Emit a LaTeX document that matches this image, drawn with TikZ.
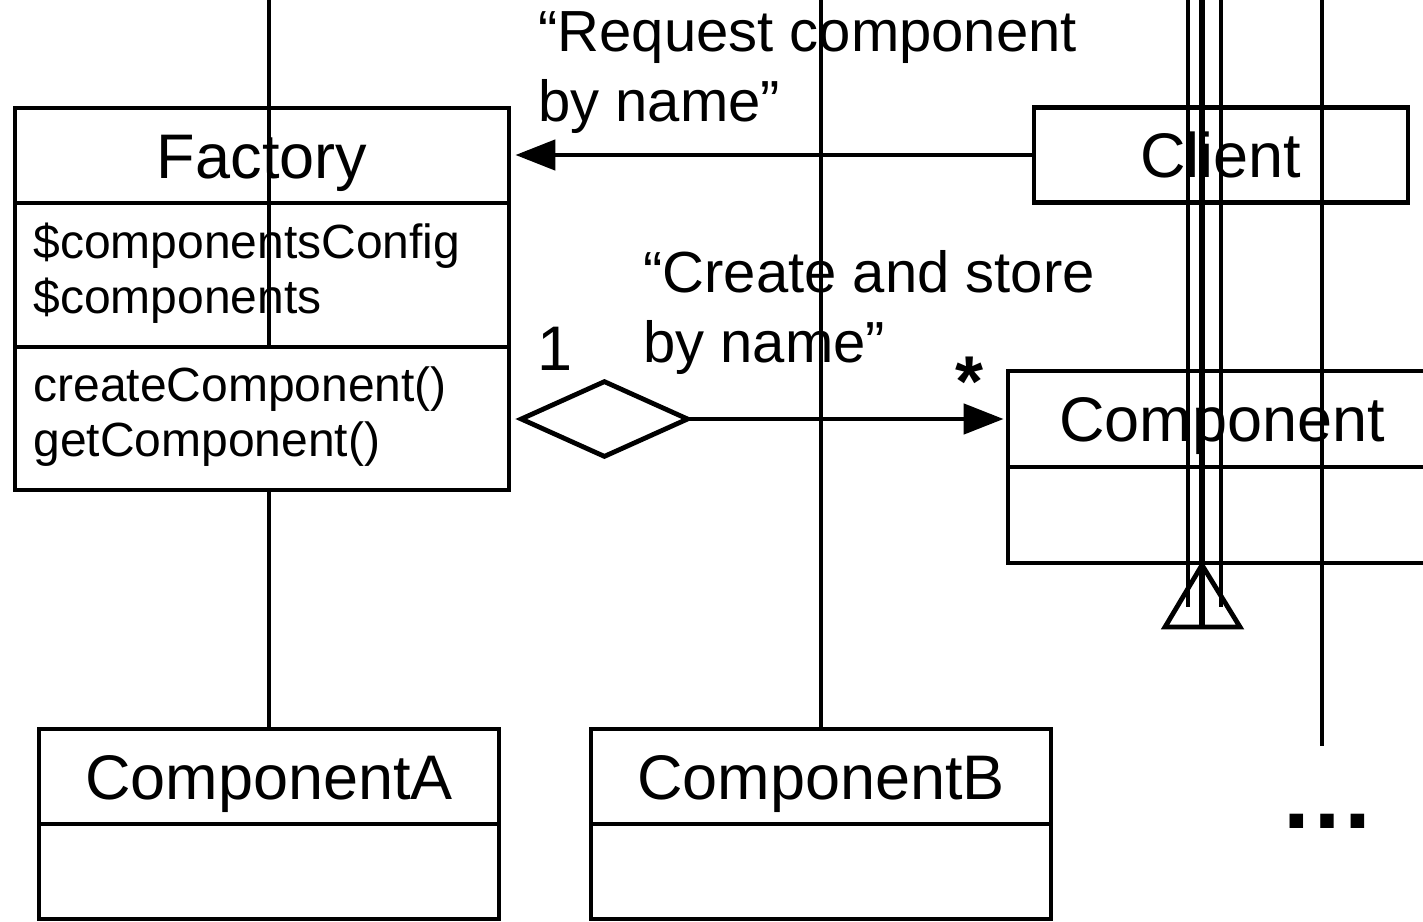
\documentclass[tikz,border=0pt]{standalone}
\usepackage{fontspec}
\setmainfont{Liberation Sans}
\usetikzlibrary{arrows.meta}
\begin{document}
\begin{tikzpicture}[x=1bp,y=-1bp,line width=4.8bp,line join=miter,
  box/.style={draw,line width=4.8bp,inner sep=0pt,anchor=center},
  headtext/.style={font=\fontsize{63bp}{72bp}\selectfont,text height=45bp,text depth=0pt},
  attrtext/.style={font=\fontsize{48bp}{55bp}\selectfont,inner sep=0pt,anchor=base west},
  lbl/.style={font=\fontsize{58bp}{67bp}\selectfont,inner sep=0pt,anchor=base west},
  mult/.style={font=\fontsize{63bp}{72bp}\selectfont,inner sep=0pt,anchor=base west},
  filltip/.style={-{Triangle[length=40bp,width=30bp]}}]
\useasboundingbox (0,0) rectangle (1423,921);
\clip (0,0) rectangle (1423,921);
% Factory (upper compartments)
\node[box,headtext,minimum width=494bp,minimum height=95bp] (fhead) at (262,155.5) {Factory};
\node[box,minimum width=494bp,minimum height=144bp] (fattr) at (262,275) {};
\node[attrtext] (a1) at (31,258) {\$componentsConfig};
\node[attrtext] (a2) at (31,313) {\$components};
% Client
\node[box,headtext,minimum width=374bp,minimum height=95bp] (client) at (1221,155) {Client};
% Component
\node[box,headtext,minimum width=428bp,minimum height=96bp] (chead) at (1222,419) {Component};
\node[box,minimum width=428bp,minimum height=96bp] (cbody) at (1222,515) {};
% ComponentA / ComponentB
\node[box,headtext,minimum width=460bp,minimum height=95bp] (cahead) at (269,776.5) {ComponentA};
\node[box,minimum width=460bp,minimum height=95bp] (cabody) at (269,871.5) {};
\node[box,headtext,minimum width=460bp,minimum height=95bp] (cbhead) at (821,776.5) {ComponentB};
\node[box,minimum width=460bp,minimum height=95bp] (cbbody) at (821,871.5) {};
% free ends
\coordinate (topA) at (269,-5);
\coordinate (topB) at (821,-5);
\coordinate (t1) at (1188,-5);   \coordinate (e1) at (1188,607);
\coordinate (t2) at (1202,-5);   \coordinate (e2) at (1202,627);
\coordinate (t3) at (1221,-5);   \coordinate (e3) at (1221,607);
\coordinate (t4) at (1322,-5);   \coordinate (e4) at (1322,746);
\coordinate (gtip) at (1202,565);
% vertical lines
\draw (cahead.north) -- (topA);
\draw (cbhead.north) -- (topB);
\draw (t1) -- (e1);
\draw[line width=5.5bp] (t2) -- (e2);
\draw (t3) -- (e3);
\draw (t4) -- (e4);
% generalization triangle
\draw (gtip) -- (1165,627) -- (1240,627) -- cycle;
% Factory methods compartment (covers the line)
\node[box,fill=white,minimum width=494bp,minimum height=143bp] (fmeth) at (262,418.5) {};
\node[attrtext] (m1) at (31,401) {createComponent()};
\node[attrtext] (m2) at (31,456) {getComponent()};
% request arrow
\draw[filltip,shorten >=4bp] (client.west) -- (fhead.east |- client.west);
\node[lbl] (req1) at (536,51) {“Request component};
\node[lbl] (req2) at (536,121) {by name”};
% aggregation
\draw[{Diamond[open,length=178bp,width=80bp]}-{Triangle[length=40bp,width=30bp]},shorten <=4bp,shorten >=2bp]
  (fmeth.east |- chead.west) -- (chead.west);
\node[lbl] (cr1) at (641,292) {“Create and store};
\node[lbl] (cr2) at (641,362) {by name”};
\node[mult] (one) at (535,370) {1};
\node[mult,font=\fontsize{72bp}{80bp}\selectfont\bfseries] (star) at (953,406) {*};
% more components
\node[font=\fontsize{96bp}{100bp}\selectfont\bfseries,inner sep=0pt,anchor=base] (dots) at (1327,828) {…};
\end{tikzpicture}
\end{document}
